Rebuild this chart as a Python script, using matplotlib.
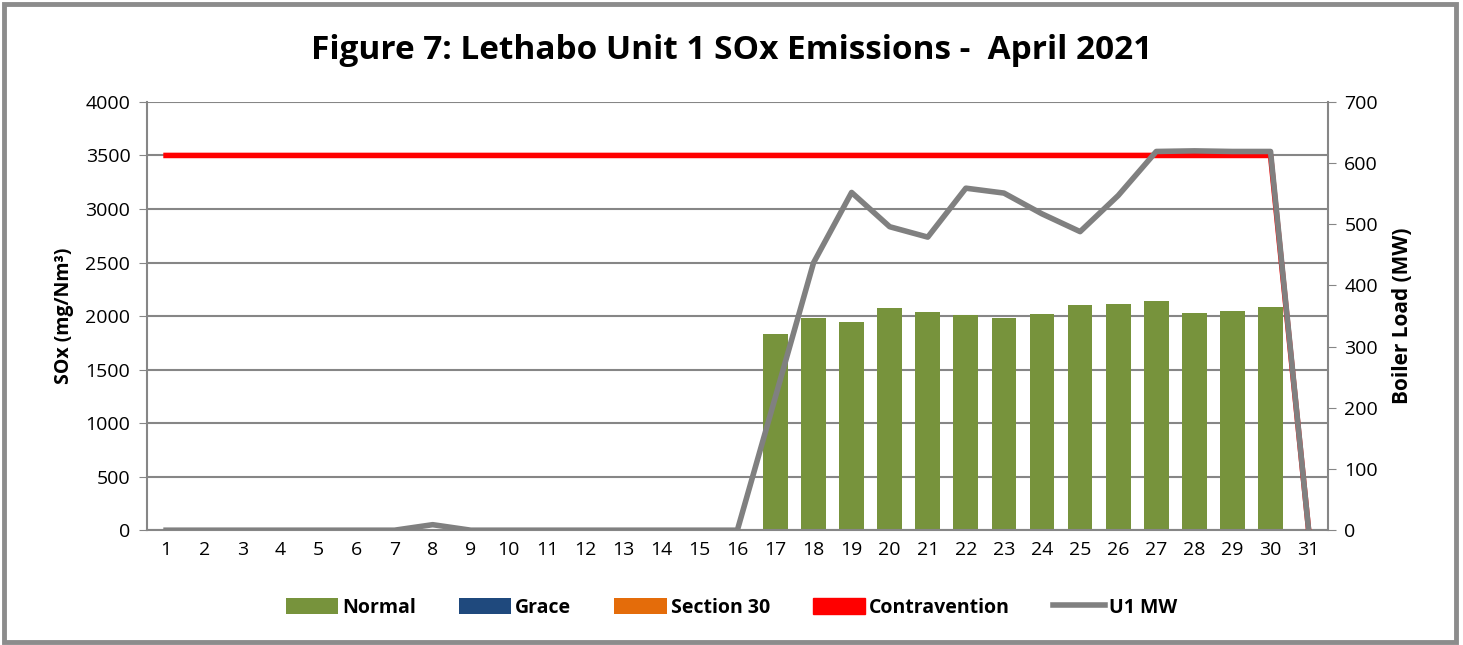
import matplotlib
matplotlib.use('Agg')
import matplotlib.pyplot as plt
from matplotlib.patches import Rectangle, Patch
import numpy as np

DAYS = list(range(1, 32))

# SOx daily averages (mg/Nm3), 0 = unit offline
NORMAL = [0] * 16 + [1834, 1984, 1947, 2072, 2038, 2013, 1984, 2022,
                     2103, 2116, 2141, 2031, 2050, 2084] + [0]
GRACE = [0] * 31
SECTION_30 = [0] * 31
CONTRAVENTION = [3500] * 30 + [0]

# boiler load (MW)
U1_MW = [0, 0, 0, 0, 0, 0, 0, 9, 0, 0, 0, 0, 0, 0, 0, 0,
         218, 437, 552, 496, 479, 559, 551, 517, 488, 547, 619, 620, 619, 619, 0]

FONT = ['Open Sans', 'DejaVu Sans']
plt.rcParams['font.family'] = FONT

fig = plt.figure(figsize=(14.63, 6.45), dpi=100)
fig.patches.append(Rectangle((0.003, 0.004), 0.992, 0.99, transform=fig.transFigure,
                             fill=False, edgecolor='#8c8c8c', linewidth=3.5))

ax = fig.add_axes([0.1005, 0.178, 0.807, 0.664])
x = np.arange(len(DAYS))

ax.bar(x, NORMAL, width=0.65, color='#77933C', label='Normal', zorder=2)
ax.bar(x, GRACE, width=0.65, bottom=NORMAL, color='#1F497D', label='Grace', zorder=2)
ax.bar(x, SECTION_30, width=0.65, bottom=np.add(NORMAL, GRACE), color='#E46C0A',
       label='Section 30', zorder=2)
ax.plot(x, CONTRAVENTION, color='#FF0000', linewidth=4, label='Contravention', zorder=3)

ax.set_xlim(-0.5, len(DAYS) - 0.5)
ax.set_ylim(0, 4000)
ax.set_yticks(range(0, 4001, 500))
ax.set_xticks(x)
ax.set_xticklabels([str(d) for d in DAYS])
ax.tick_params(axis='x', length=0, labelsize=14, pad=8)
ax.tick_params(axis='y', length=6, color='#868686', labelsize=14, pad=6)
ax.grid(axis='y', color='#868686', linewidth=1.5, zorder=0)
ax.set_axisbelow(True)
for s in ['left', 'bottom']:
    ax.spines[s].set_color('#868686')
    ax.spines[s].set_linewidth(1.5)
ax.spines['top'].set_visible(False)
ax.spines['right'].set_visible(False)
ax.set_ylabel('SOx (mg/Nm³)', fontsize=14, fontweight='bold', labelpad=8)

ax2 = ax.twinx()
ax2.plot(x, U1_MW, color='#808080', linewidth=4, label='U1 MW', zorder=4)
ax2.set_ylim(0, 700)
ax2.set_yticks(range(0, 701, 100))
ax2.tick_params(axis='y', length=6, color='#868686', labelsize=14, pad=6)
ax2.spines['right'].set_color('#868686')
ax2.spines['right'].set_linewidth(1.5)
for s in ['left', 'top', 'bottom']:
    ax2.spines[s].set_visible(False)
ax2.set_ylabel('Boiler Load (MW)', fontsize=15, fontweight='bold', labelpad=10)

fig.suptitle('Figure 7: Lethabo Unit 1 SOx Emissions -  April 2021', x=0.5, y=0.948,
             fontsize=24, fontweight='bold')

h1, l1 = ax.get_legend_handles_labels()
h2, l2 = ax2.get_legend_handles_labels()
handles = [h1[1], h1[2], h1[3], Patch(color='#FF0000'), h2[0]]
labels = [l1[1], l1[2], l1[3], l1[0], l2[0]]
fig.legend(handles, labels, loc='center', bbox_to_anchor=(0.5, 0.058), ncol=5,
           frameon=False, prop={'size': 14, 'weight': 'bold'}, handlelength=2.7,
           handleheight=0.9, handletextpad=0.2, columnspacing=2.2)

fig.savefig('out.png', dpi=100)
